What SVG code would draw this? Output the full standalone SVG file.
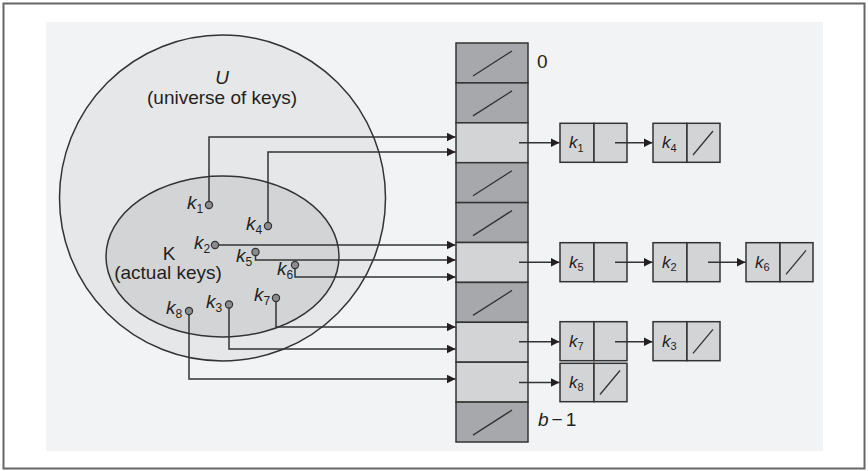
<svg xmlns="http://www.w3.org/2000/svg" width="868" height="471" viewBox="0 0 868 471">
<style>
text{font-family:"Liberation Sans",Arial,sans-serif;fill:#231f20}
.big{font-size:19px}
.k{font-size:19px;font-style:italic}
.nk{font-size:17px;font-style:italic}
.sub{font-style:normal;font-size:12px}
.nsub{font-style:normal;font-size:11px}
.dark{fill:#a7a8ab;stroke:#333;stroke-width:1.5}
.light{fill:#d3d4d6;stroke:#333;stroke-width:1.5}
.slash{stroke:#333;stroke-width:1.3;fill:none}
.con{stroke:#333;stroke-width:1.5;fill:none}
.dot{fill:#8c8c8e;stroke:#333;stroke-width:1.2}
</style>
<defs>
<marker id="ah" markerUnits="userSpaceOnUse" markerWidth="10" markerHeight="9" refX="9" refY="4.5" orient="auto">
<path d="M0,0 L9,4.5 L0,9 z" fill="#231f20"/>
</marker>
</defs>
<rect x="3.5" y="3.5" width="861" height="465" fill="#fff" stroke="#666" stroke-width="2"/>
<rect x="46" y="22" width="777" height="429" fill="#f2f3f5"/>
<g id="universe">
<circle cx="222.5" cy="198" r="163" fill="#e6e7e9" stroke="#333" stroke-width="1.5"/>
<text class="k" x="222" y="84" font-size="18" text-anchor="middle" style="font-style:italic">U</text>
<text class="big" x="222" y="104" text-anchor="middle">(universe of keys)</text>
</g>
<g id="actual">
<ellipse cx="222.5" cy="256.5" rx="116.5" ry="80.5" fill="#d3d4d6" stroke="#333" stroke-width="1.5"/>
<text class="big" x="169" y="260" text-anchor="middle">K</text>
<text class="big" x="168" y="279" text-anchor="middle">(actual keys)</text>
</g>
<g id="table">
<rect class="dark" x="456" y="43" width="72" height="39.9"/>
<line class="slash" x1="473" y1="76" x2="512" y2="51"/>
<rect class="dark" x="456" y="82.9" width="72" height="39.9"/>
<line class="slash" x1="473" y1="115.9" x2="512" y2="90.9"/>
<rect class="light" x="456" y="122.8" width="72" height="39.9"/>
<rect class="dark" x="456" y="162.7" width="72" height="39.9"/>
<line class="slash" x1="473" y1="195.7" x2="512" y2="170.7"/>
<rect class="dark" x="456" y="202.6" width="72" height="39.9"/>
<line class="slash" x1="473" y1="235.6" x2="512" y2="210.6"/>
<rect class="light" x="456" y="242.5" width="72" height="39.9"/>
<rect class="dark" x="456" y="282.4" width="72" height="39.9"/>
<line class="slash" x1="473" y1="315.4" x2="512" y2="290.4"/>
<rect class="light" x="456" y="322.3" width="72" height="39.9"/>
<rect class="light" x="456" y="362.2" width="72" height="39.9"/>
<rect class="dark" x="456" y="402.1" width="72" height="39.9"/>
<line class="slash" x1="473" y1="435.1" x2="512" y2="410.1"/>
<text class="big" x="537" y="68">0</text>
<text class="big" x="538" y="426"><tspan style="font-style:italic">b</tspan><tspan dx="3">−</tspan><tspan dx="3">1</tspan></text>
</g>
<g id="node-k1">
<rect class="light" x="560" y="123.3" width="34" height="39"/>
<rect class="light" x="594" y="123.3" width="33" height="39"/>
<text class="nk" x="569" y="148">k<tspan class="nsub" dy="3.5">1</tspan></text>
</g>
<g id="node-k4">
<rect class="light" x="653" y="123.3" width="34" height="39"/>
<rect class="light" x="687" y="123.3" width="33" height="39"/>
<line class="slash" x1="693" y1="155" x2="713" y2="131"/>
<text class="nk" x="662" y="148">k<tspan class="nsub" dy="3.5">4</tspan></text>
</g>
<g id="node-k5">
<rect class="light" x="560" y="242.7" width="34" height="39"/>
<rect class="light" x="594" y="242.7" width="33" height="39"/>
<text class="nk" x="569" y="267.5">k<tspan class="nsub" dy="3.5">5</tspan></text>
</g>
<g id="node-k2">
<rect class="light" x="653" y="242.7" width="34" height="39"/>
<rect class="light" x="687" y="242.7" width="33" height="39"/>
<text class="nk" x="662" y="267.5">k<tspan class="nsub" dy="3.5">2</tspan></text>
</g>
<g id="node-k6">
<rect class="light" x="746" y="242.7" width="34" height="39"/>
<rect class="light" x="780" y="242.7" width="33" height="39"/>
<line class="slash" x1="786" y1="274.4" x2="806" y2="250.4"/>
<text class="nk" x="755" y="267.5">k<tspan class="nsub" dy="3.5">6</tspan></text>
</g>
<g id="node-k7">
<rect class="light" x="560" y="321.7" width="34" height="39"/>
<rect class="light" x="594" y="321.7" width="33" height="39"/>
<text class="nk" x="569" y="346.5">k<tspan class="nsub" dy="3.5">7</tspan></text>
</g>
<g id="node-k3">
<rect class="light" x="653" y="321.7" width="34" height="39"/>
<rect class="light" x="687" y="321.7" width="33" height="39"/>
<line class="slash" x1="693" y1="353.4" x2="713" y2="329.4"/>
<text class="nk" x="662" y="346.5">k<tspan class="nsub" dy="3.5">3</tspan></text>
</g>
<g id="node-k8">
<rect class="light" x="560" y="363.3" width="34" height="38.4"/>
<rect class="light" x="594" y="363.3" width="33" height="38.4"/>
<line class="slash" x1="600" y1="394.5" x2="620" y2="370.5"/>
<text class="nk" x="569" y="387.5">k<tspan class="nsub" dy="3.5">8</tspan></text>
</g>
<g id="connectors">
<path class="con" d="M209 205 V137 H455.5" marker-end="url(#ah)"/>
<path class="con" d="M268 226 V152 H455.5" marker-end="url(#ah)"/>
<path class="con" d="M215 245 H455.5" marker-end="url(#ah)"/>
<path class="con" d="M255.5 252 V260 H455.5" marker-end="url(#ah)"/>
<path class="con" d="M295 265 V277 H455.5" marker-end="url(#ah)"/>
<path class="con" d="M276 298 V327 H455.5" marker-end="url(#ah)"/>
<path class="con" d="M229 304 V349 H455.5" marker-end="url(#ah)"/>
<path class="con" d="M189 311 V379 H455.5" marker-end="url(#ah)"/>
<path class="con" d="M519 142.8 H559.5" marker-end="url(#ah)"/>
<path class="con" d="M615 142.8 H652.5" marker-end="url(#ah)"/>
<path class="con" d="M519 262.2 H559.5" marker-end="url(#ah)"/>
<path class="con" d="M615 262.2 H652.5" marker-end="url(#ah)"/>
<path class="con" d="M708 262.2 H745.5" marker-end="url(#ah)"/>
<path class="con" d="M519 341.7 H559.5" marker-end="url(#ah)"/>
<path class="con" d="M615 341.7 H652.5" marker-end="url(#ah)"/>
<path class="con" d="M519 382.5 H559.5" marker-end="url(#ah)"/>
</g>
<g id="key-k1"><circle class="dot" cx="209" cy="205" r="3.6"/><text class="k" x="187" y="209">k<tspan class="sub" dy="3.5">1</tspan></text></g>
<g id="key-k4"><circle class="dot" cx="268" cy="226" r="3.6"/><text class="k" x="246" y="230">k<tspan class="sub" dy="3.5">4</tspan></text></g>
<g id="key-k2"><circle class="dot" cx="215" cy="245" r="3.6"/><text class="k" x="194" y="249">k<tspan class="sub" dy="3.5">2</tspan></text></g>
<g id="key-k5"><circle class="dot" cx="255.5" cy="252" r="3.6"/><text class="k" x="236" y="262">k<tspan class="sub" dy="3.5">5</tspan></text></g>
<g id="key-k6"><circle class="dot" cx="295" cy="265" r="3.6"/><text class="k" x="277" y="275">k<tspan class="sub" dy="3.5">6</tspan></text></g>
<g id="key-k7"><circle class="dot" cx="276" cy="298" r="3.6"/><text class="k" x="254" y="301">k<tspan class="sub" dy="3.5">7</tspan></text></g>
<g id="key-k3"><circle class="dot" cx="229" cy="304.5" r="3.6"/><text class="k" x="206" y="308">k<tspan class="sub" dy="3.5">3</tspan></text></g>
<g id="key-k8"><circle class="dot" cx="189" cy="311" r="3.6"/><text class="k" x="166" y="314">k<tspan class="sub" dy="3.5">8</tspan></text></g>
</svg>
